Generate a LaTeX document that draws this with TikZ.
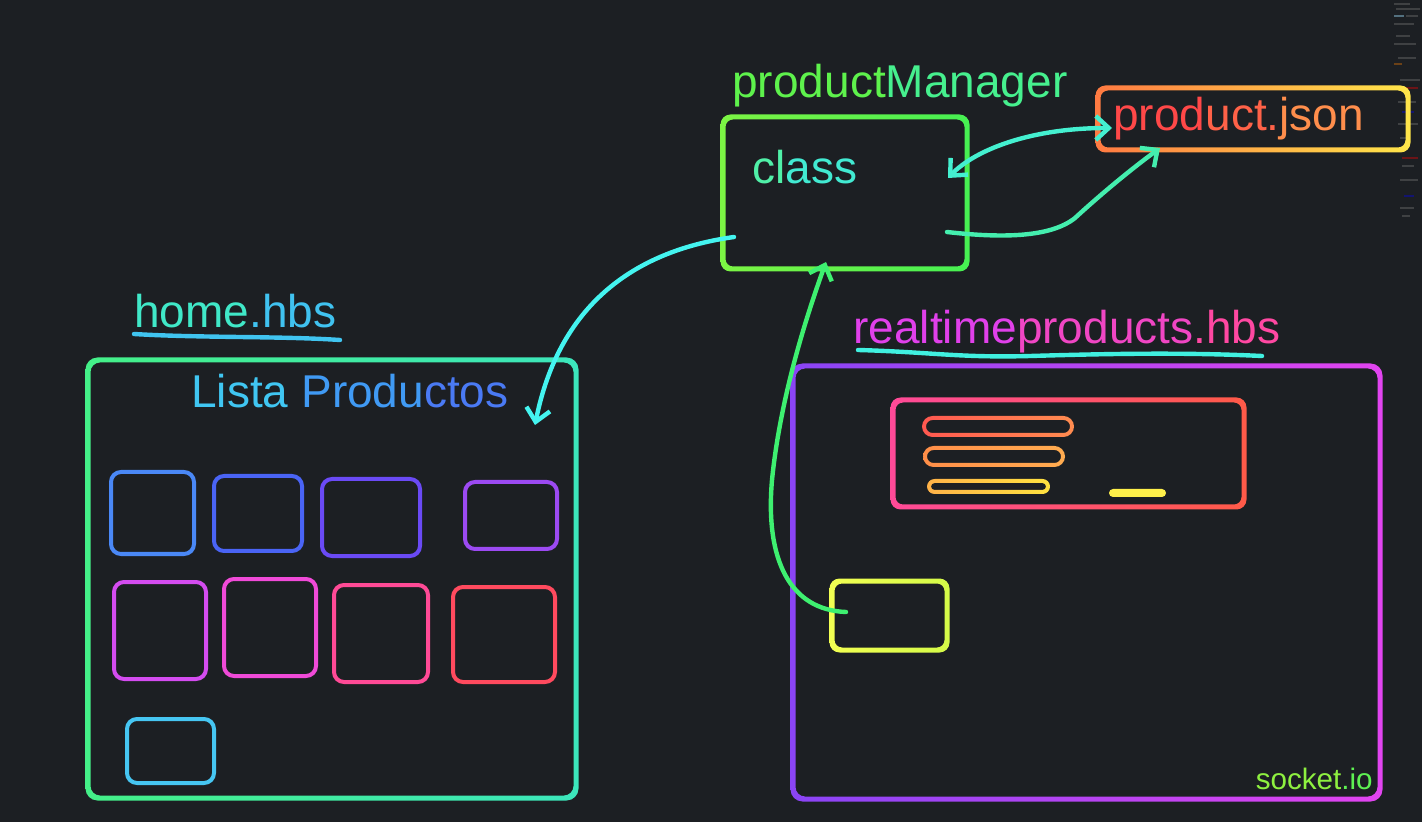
\documentclass[tikz,border=0pt]{standalone}
\usepackage{fontspec}
\setmainfont{Liberation Sans}
\usetikzlibrary{arrows.meta,calc}

\definecolor{bg}{HTML}{1C1F23}
\definecolor{clsA}{HTML}{7CF444}
\definecolor{clsB}{HTML}{46F052}
\definecolor{jsonA}{HTML}{FF7A42}
\definecolor{jsonB}{HTML}{FFE64A}
\definecolor{homeA}{HTML}{44F088}
\definecolor{homeB}{HTML}{3CE6BC}
\definecolor{rtA}{HTML}{8A44F5}
\definecolor{rtB}{HTML}{E244F0}
\definecolor{cardA}{HTML}{FF4A98}
\definecolor{cardB}{HTML}{FF5A48}
\definecolor{yelA}{HTML}{F2FF52}
\definecolor{yelB}{HTML}{D4FA48}
\definecolor{arrA}{HTML}{44F4F0}
\definecolor{arrB}{HTML}{44F0D0}
\definecolor{arrC}{HTML}{44EEAE}
\definecolor{arrD}{HTML}{3EF070}

% outline with a left-to-right gradient: node, colours, outer/inner radius, half width
\newcommand{\gradframe}[6]{%
  \shade[left color=#2, right color=#3, even odd rule]
    [rounded corners=#4] ($(#1.south west)+(-#6,#6)$) rectangle ($(#1.north east)+(#6,-#6)$)
    [rounded corners=#5] ($(#1.south west)+(#6,-#6)$) rectangle ($(#1.north east)+(-#6,#6)$);}

\tikzset{
  frame/.style={inner sep=0pt, outer sep=0pt},
  tile/.style={frame, draw, line width=2pt, rounded corners=5pt},
  label/.style={anchor=base west, inner sep=0pt, font=\fontsize{23}{26}\selectfont},
  wire/.style={line width=2.2pt, line cap=round},
  tip/.tip={Straight Barb[length=6.5pt, width=12pt, line width=2.2pt]},
}

\begin{document}
\begin{tikzpicture}[x=0.5pt, y=-0.5pt]

	% Background
	\fill[bg] (0,0) rectangle (1422,822);
	\useasboundingbox (0,0) rectangle (1422,822);

	% Code minimap
	\foreach \yy/\xx/\ll/\cc in {4/1394/16/gray, 9/1396/24/gray, 16/1394/10/cyan, 16/1406/12/gray,
		24/1394/20/gray, 36/1396/14/gray, 44/1394/22/gray, 58/1398/18/gray, 64/1394/8/orange,
		80/1400/20/gray, 88/1404/14/red, 102/1398/18/gray, 112/1402/12/blue, 124/1398/20/gray,
		138/1400/10/gray, 158/1402/16/red, 166/1402/12/gray, 180/1400/18/gray, 196/1404/10/blue,
		208/1400/14/gray, 216/1402/8/gray}{
		\draw[\cc!35!bg, line width=0.8pt] (\xx,\yy) -- ++(\ll,0);
	}

	% productManager
	\node[label] (pm) at (732,98) {{\color[HTML]{5EF24C}product}{\color[HTML]{46F08E}Manager}};
	\node[frame, minimum width=122pt, minimum height=76pt] (cls) at (845,193) {};
	\gradframe{cls}{clsA}{clsB}{5pt}{3.75pt}{2.5}
	\node[label] (clsl) at (752,184) {{\color[HTML]{50F0A8}cl}{\color[HTML]{42EAD2}ass}};

	% product.json
	\node[frame, minimum width=155pt, minimum height=31pt] (json) at (1253,119) {};
	\gradframe{json}{jsonA}{jsonB}{5pt}{3.75pt}{2.5}
	\node[label] (jsonl) at (1113,131) {{\color[HTML]{FF4848}prod}{\color[HTML]{FF6248}uct.}{\color[HTML]{FF8E4C}json}};

	% home.hbs
	\node[label] (homel) at (134,328) {{\color[HTML]{40E8C8}home}{\color[HTML]{40C2F0}.hbs}};
	\draw[wire, color={rgb,255:red,64;green,196;blue,240}] (134,334) .. controls (200,338) and (280,336) .. (340,340);
	\node[frame, minimum width=244pt, minimum height=219pt] (home) at (332,579) {};
	\gradframe{home}{homeA}{homeB}{6pt}{4.75pt}{2.5}
	\node[label] (lista) at (191,408) {{\color[HTML]{40C6F2}Lista }{\color[HTML]{409AF4}Produ}{\color[HTML]{4A7AF4}ctos}};

	% Product tiles
	\foreach \i/\x/\y/\w/\h/\c in {
		1/152.5/513/41.5/41/4A88F6, 2/258/513.5/44/37.5/4A64F5,
		3/371/517.5/49/38.5/6A4AF5, 4/511/515.5/46/33.5/9C4AF2,
		5/160/630.5/46/48.5/D44CF0, 6/270/627.5/46/48.5/F04AD8,
		7/381/633.5/47/48.5/FF4A96, 8/504/634.5/51/47.5/FF4A5E,
		9/170.5/751/43.5/32/46C6F2}{
		\definecolor{tc}{HTML}{\c}
		\node[tile, draw=tc, minimum width=\w pt, minimum height=\h pt] (b\i) at (\x,\y) {};
	}

	% realtimeproducts.hbs
	\node[label] (rtl) at (853,344) {{\color[HTML]{E040EA}realtime}{\color[HTML]{F046C4}products}{\color[HTML]{FF48A2}.hbs}};
	\draw[wire, color={rgb,255:red,64;green,240;blue,224}] (858,350) .. controls (930,352) and (960,358) .. (1030,356)
		.. controls (1100,354) and (1180,352) .. (1262,356);
	\node[frame, minimum width=293.5pt, minimum height=216.5pt] (rt) at (1086.5,582.5) {};
	\gradframe{rt}{rtA}{rtB}{6pt}{4.75pt}{2.5}
	\node[anchor=base east, inner sep=0pt, font=\fontsize{14.8}{16}\selectfont] (sock) at (1373,789)
		{{\color[HTML]{8EF040}socket}{\color[HTML]{5EF052}.io}};

	% Form card
	\node[frame, minimum width=175.5pt, minimum height=53.5pt] (card) at (1068.5,453.5) {};
	\gradframe{card}{cardA}{cardB}{5pt}{3.75pt}{2.5}
	\node[frame, minimum width=74pt, minimum height=8.5pt] (f1) at (998,426.5) {};
	\gradframe{f1}{{rgb,255:red,255;green,88;blue,80}}{{rgb,255:red,255;green,140;blue,80}}{5.25pt}{3.25pt}{2}
	\node[frame, minimum width=69pt, minimum height=8.5pt] (f2) at (994,456.5) {};
	\gradframe{f2}{{rgb,255:red,255;green,142;blue,72}}{{rgb,255:red,255;green,172;blue,80}}{5.25pt}{3.25pt}{2}
	\node[frame, minimum width=59.5pt, minimum height=5.5pt] (f3) at (988.5,486.5) {};
	\gradframe{f3}{{rgb,255:red,255;green,178;blue,72}}{{rgb,255:red,255;green,226;blue,64}}{3.75pt}{1.75pt}{2}
	\node[frame, fill={rgb,255:red,255;green,240;blue,74}, rounded corners=2pt,
		minimum width=28.5pt, minimum height=4pt] (btn) at (1137.5,493) {};

	% Socket box
	\node[frame, minimum width=57.5pt, minimum height=34.5pt] (yel) at (889.5,615.5) {};
	\gradframe{yel}{yelA}{yelB}{5pt}{3.75pt}{2.5}

	% Arrows
	\coordinate (clsW) at (734,237);
	\coordinate (homeIn) at (535,425);
	\coordinate (clsE) at (948,178);
	\coordinate (jsonW) at (1112,128);
	\coordinate (clsSE) at (947,232);
	\coordinate (jsonS) at (1160,148);
	\coordinate (yelW) at (846,612);
	\coordinate (clsS) at (826,262);

	\draw[wire, arrD, -tip] (yelW) .. controls (790,610) and (765,560) .. (772,480)
		.. controls (780,400) and (805,320) .. (clsS);
	\draw[wire, arrA, -tip] (clsW) .. controls (640,250) and (560,300) .. (homeIn);
	\draw[wire, arrB, tip-tip] (clsE) .. controls (975,150) and (1030,128) .. (jsonW);
	\draw[wire, arrC, -tip] (clsSE) .. controls (1000,238) and (1050,238) .. (1075,218)
		.. controls (1100,195) and (1130,170) .. (jsonS);

\end{tikzpicture}
\end{document}
